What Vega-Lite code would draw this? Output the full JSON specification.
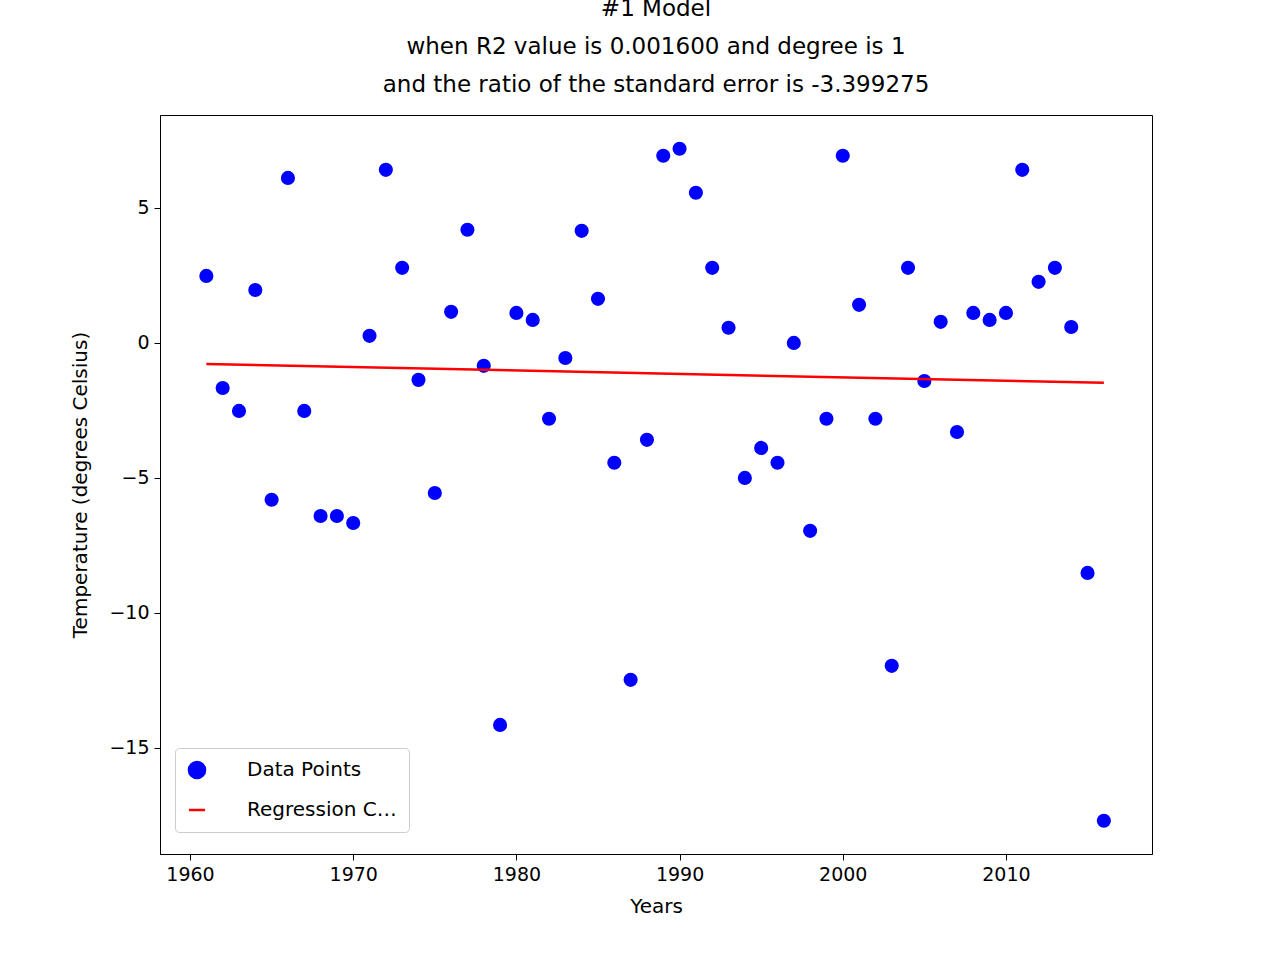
{
  "$schema": "https://vega.github.io/schema/vega-lite/v6.json",
  "width": 992,
  "height": 739,
  "autosize": {"type": "none"},
  "padding": {"left": 160, "top": 115, "right": 128, "bottom": 106},
  "background": "white",
  "title": {
    "text": ["#1 Model", "when R2 value is 0.001600 and degree is 1", "and the ratio of the standard error is -3.399275"],
    "font": "DejaVu Sans",
    "fontSize": 23,
    "fontWeight": "normal",
    "color": "black",
    "lineHeight": 38,
    "offset": 18,
    "anchor": "middle"
  },
  "datasets": {
    "points": [
      {"year": 1961, "temp": 2.48}, {"year": 1962, "temp": -1.67}, {"year": 1963, "temp": -2.52},
      {"year": 1964, "temp": 1.96}, {"year": 1965, "temp": -5.81}, {"year": 1966, "temp": 6.11},
      {"year": 1967, "temp": -2.52}, {"year": 1968, "temp": -6.41}, {"year": 1969, "temp": -6.41},
      {"year": 1970, "temp": -6.67}, {"year": 1971, "temp": 0.26}, {"year": 1972, "temp": 6.41},
      {"year": 1973, "temp": 2.78}, {"year": 1974, "temp": -1.37}, {"year": 1975, "temp": -5.56},
      {"year": 1976, "temp": 1.15}, {"year": 1977, "temp": 4.19}, {"year": 1978, "temp": -0.85},
      {"year": 1979, "temp": -14.15}, {"year": 1980, "temp": 1.11}, {"year": 1981, "temp": 0.85},
      {"year": 1982, "temp": -2.81}, {"year": 1983, "temp": -0.56}, {"year": 1984, "temp": 4.15},
      {"year": 1985, "temp": 1.63}, {"year": 1986, "temp": -4.44}, {"year": 1987, "temp": -12.48},
      {"year": 1988, "temp": -3.59}, {"year": 1989, "temp": 6.93}, {"year": 1990, "temp": 7.19},
      {"year": 1991, "temp": 5.56}, {"year": 1992, "temp": 2.78}, {"year": 1993, "temp": 0.56},
      {"year": 1994, "temp": -5.0}, {"year": 1995, "temp": -3.89}, {"year": 1996, "temp": -4.44},
      {"year": 1997, "temp": 0.0}, {"year": 1998, "temp": -6.96}, {"year": 1999, "temp": -2.81},
      {"year": 2000, "temp": 6.93}, {"year": 2001, "temp": 1.41}, {"year": 2002, "temp": -2.81},
      {"year": 2003, "temp": -11.96}, {"year": 2004, "temp": 2.78}, {"year": 2005, "temp": -1.41},
      {"year": 2006, "temp": 0.78}, {"year": 2007, "temp": -3.3}, {"year": 2008, "temp": 1.11},
      {"year": 2009, "temp": 0.85}, {"year": 2010, "temp": 1.11}, {"year": 2011, "temp": 6.41},
      {"year": 2012, "temp": 2.26}, {"year": 2013, "temp": 2.78}, {"year": 2014, "temp": 0.59},
      {"year": 2015, "temp": -8.52}, {"year": 2016, "temp": -17.7}
    ],
    "fit": [
      {"year": 1961, "temp": -0.78},
      {"year": 2016, "temp": -1.48}
    ]
  },
  "encoding": {
    "x": {
      "field": "year", "type": "quantitative", "title": "Years",
      "scale": {"domain": [1958.16, 2018.95], "nice": false, "zero": false},
      "axis": {"values": [1960, 1970, 1980, 1990, 2000, 2010], "format": "d"}
    },
    "y": {
      "field": "temp", "type": "quantitative", "title": "Temperature (degrees Celsius)",
      "scale": {"domain": [-18.93, 8.44], "nice": false, "zero": false},
      "axis": {"values": [-15, -10, -5, 0, 5]}
    },
    "color": {
      "datum": "Data Points",
      "scale": {"domain": ["Data Points", "Regression Curve"], "range": ["blue", "red"]},
      "legend": {
        "title": null, "orient": "none", "legendX": 15, "legendY": 633,
        "direction": "vertical", "labelFontSize": 20, "labelFont": "DejaVu Sans",
        "labelColor": "black", "symbolSize": 260, "rowPadding": 16,
        "strokeColor": "#cccccc", "fillColor": "white", "padding": 12,
        "cornerRadius": 4, "labelOffset": 40, "symbolStrokeWidth": 2.5
      }
    },
    "shape": {
      "datum": "Data Points",
      "scale": {"domain": ["Data Points", "Regression Curve"], "range": ["circle", "stroke"]},
      "legend": null
    }
  },
  "layer": [
    {
      "data": {"name": "points"},
      "mark": {"type": "point", "filled": true, "size": 200, "opacity": 1, "shape": "circle"}
    },
    {
      "data": {"name": "fit"},
      "mark": {"type": "line", "strokeWidth": 2.5},
      "encoding": {"color": {"datum": "Regression Curve"}, "shape": {"datum": "Regression Curve"}}
    }
  ],
  "config": {
    "font": "DejaVu Sans",
    "view": {"stroke": "black", "strokeWidth": 1},
    "axis": {
      "grid": false, "domainColor": "black", "tickColor": "black",
      "labelColor": "black", "titleColor": "black", "labelFontSize": 19,
      "titleFontSize": 20, "titleFontWeight": "normal", "tickSize": 6, "labelPadding": 5
    },
    "axisX": {"titlePadding": 12},
    "axisY": {"titlePadding": 18}
  }
}
